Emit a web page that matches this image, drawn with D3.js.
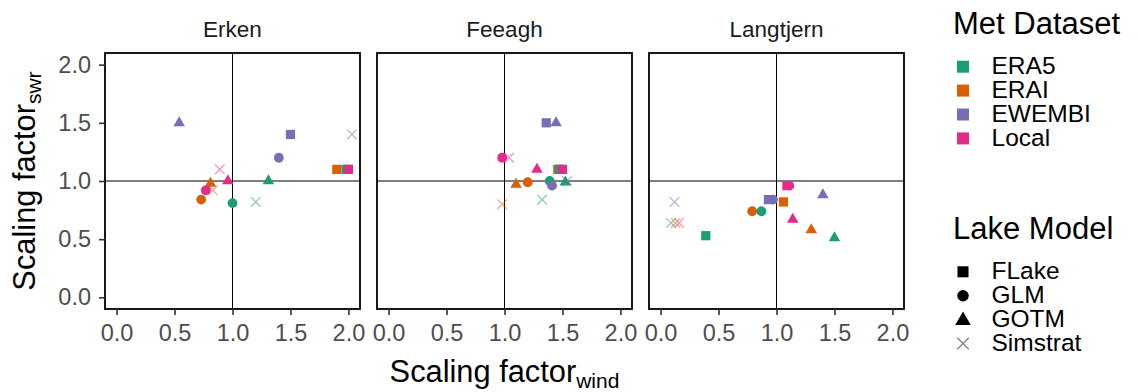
<!DOCTYPE html>
<html>
<head>
<meta charset="utf-8">
<script src="https://cdn.jsdelivr.net/npm/d3@7"></script>
<style>
  html, body { margin: 0; padding: 0; background: #ffffff; }
  svg { display: block; font-family: "Liberation Sans", Arial, Helvetica, sans-serif; }
</style>
</head>
<body>
<svg id="chart" width="1138" height="392"></svg>
<script>
// Facets, colour groups and shape groups
const lakes = ["Erken", "Feeagh", "Langtjern"];
const metDatasets = ["ERA5", "ERAI", "EWEMBI", "Local"];
const lakeModels = ["FLake", "GLM", "GOTM", "Simstrat"];
const datasetColors = ["#1B9E77", "#D95F02", "#7570B3", "#E7298A"];
// order in which the dataset groups are layered on the panels
const drawOrder = ["ERAI", "ERA5", "EWEMBI", "Local"];
const tickValues = [0, 0.5, 1, 1.5, 2];

// Scaling factors; rows follow metDatasets, columns follow lakeModels
const erkenWind = [
  [1.98, 1.00, 1.31, 1.20],
  [1.90, 0.73, 0.81, 0.83],
  [1.50, 1.40, 0.54, 2.03],
  [2.00, 0.77, 0.96, 0.89]
];
const erkenSwr = [
  [1.10, 0.81, 1.00, 0.82],
  [1.10, 0.84, 0.98, 0.92],
  [1.40, 1.20, 1.50, 1.40],
  [1.10, 0.92, 1.00, 1.10]
];
const feeaghWind = [
  [1.475, 1.39, 1.525, 1.325],
  [1.46, 1.20, 1.10, 0.98],
  [1.36, 1.41, 1.445, 1.54],
  [1.50, 0.98, 1.28, 1.04]
];
const feeaghSwr = [
  [1.10, 1.00, 0.99, 0.84],
  [1.10, 0.99, 0.97, 0.80],
  [1.50, 0.96, 1.50, 1.00],
  [1.10, 1.20, 1.10, 1.20]
];
const langtjernWind = [
  [0.39, 0.87, 1.50, 0.09],
  [1.06, 0.79, 1.30, 0.13],
  [0.93, 0.97, 1.40, 0.12],
  [1.09, 1.11, 1.14, 0.16]
];
const langtjernSwr = [
  [0.53, 0.74, 0.51, 0.64],
  [0.82, 0.74, 0.58, 0.64],
  [0.84, 0.84, 0.88, 0.82],
  [0.96, 0.96, 0.67, 0.64]
];

const windByLake = [erkenWind, feeaghWind, langtjernWind];
const swrByLake = [erkenSwr, feeaghSwr, langtjernSwr];

// ---- layout ----
const svg = d3.select("#chart");
const panelW = 255, panelH = 256, panelTop = 53, panelGap = 17, firstLeft = 105;
const tickCol = "#333333", labelCol = "#4D4D4D";

const color = d3.scaleOrdinal().domain(metDatasets).range(datasetColors);
const y = d3.scaleLinear().domain([-0.1, 2.1]).range([panelTop + panelH, panelTop]);

// marker path builders, centred on (0,0)
function shapePath(model, s) {
  if (model === "FLake") {
    const h = s * 0.48;
    return `M${-h},${-h}H${h}V${h}H${-h}Z`;
  }
  if (model === "GLM") {
    const r = s * 0.5;
    return `M${r},0A${r},${r} 0 1,1 ${-r},0A${r},${r} 0 1,1 ${r},0Z`;
  }
  if (model === "GOTM") {
    const half = s * 0.6, r = half * 2 / Math.sqrt(3);
    return `M0,${-r}L${half},${r / 2}L${-half},${r / 2}Z`;
  }
  const c = s * 0.5;
  return `M${-c},${-c}L${c},${c}M${-c},${c}L${c},${-c}`;
}

function drawMarker(g, model, fill, s) {
  const p = g.append("path").attr("d", shapePath(model, s));
  if (model === "Simstrat") {
    p.attr("fill", "none").attr("stroke", fill).attr("stroke-width", 1.3).attr("stroke-opacity", 0.5);
  } else {
    p.attr("fill", fill);
  }
  return p;
}

lakes.forEach((lake, li) => {
  const left = firstLeft + li * (panelW + panelGap);
  const x = d3.scaleLinear().domain([-0.1, 2.1]).range([left, left + panelW]);
  const g = svg.append("g");

  // facet title
  g.append("text")
    .attr("x", left + panelW / 2).attr("y", 36.5)
    .attr("text-anchor", "middle")
    .attr("font-size", 22.5).attr("fill", "#1A1A1A")
    .text(lake);

  // reference lines at a scaling factor of 1
  g.append("line")
    .attr("x1", x(1)).attr("x2", x(1)).attr("y1", panelTop).attr("y2", panelTop + panelH)
    .attr("stroke", "#000").attr("stroke-width", 1);
  g.append("line")
    .attr("x1", left).attr("x2", left + panelW).attr("y1", y(1)).attr("y2", y(1))
    .attr("stroke", "#000").attr("stroke-width", 1);

  // points
  const pts = g.append("g");
  drawOrder.forEach(ds => {
    const di = metDatasets.indexOf(ds);
    lakeModels.forEach((model, mi) => {
      const px = x(windByLake[li][di][mi]);
      const py = y(swrByLake[li][di][mi]);
      const mg = pts.append("g").attr("transform", `translate(${px},${py})`);
      drawMarker(mg, model, color(ds), model === "GLM" ? 9.8 : 9.6);
    });
  });

  // panel border
  g.append("rect")
    .attr("x", left).attr("y", panelTop).attr("width", panelW).attr("height", panelH)
    .attr("fill", "none").attr("stroke", "#000").attr("stroke-width", 1.8);

  // x axis
  const xa = g.append("g")
    .attr("transform", `translate(0,${panelTop + panelH})`)
    .call(d3.axisBottom(x).tickValues(tickValues).tickFormat(d3.format(".1f")).tickSize(6).tickPadding(9));
  xa.select(".domain").remove();
  xa.selectAll(".tick line").attr("stroke", tickCol).attr("stroke-width", 1.6);
  xa.selectAll(".tick text").attr("fill", labelCol).attr("font-size", 23.5)
    .attr("font-family", "Liberation Sans, Arial, sans-serif");

  if (li === 0) {
    const ya = g.append("g")
      .attr("transform", `translate(${left},0)`)
      .call(d3.axisLeft(y).tickValues(tickValues).tickFormat(d3.format(".1f")).tickSize(6).tickPadding(8));
    ya.select(".domain").remove();
    ya.selectAll(".tick line").attr("stroke", tickCol).attr("stroke-width", 1.6);
    ya.selectAll(".tick text").attr("fill", labelCol).attr("font-size", 23.5)
      .attr("font-family", "Liberation Sans, Arial, sans-serif");
  }
});

// axis titles with subscripts
const xTitle = svg.append("text")
  .attr("x", firstLeft + 1.5 * panelW + panelGap).attr("y", 381.5)
  .attr("text-anchor", "middle").attr("font-size", 30.8).attr("fill", "#000");
xTitle.append("tspan").text("Scaling factor");
xTitle.append("tspan").attr("font-size", 21).attr("dy", 6).text("wind");

const yTitle = svg.append("text")
  .attr("transform", `translate(35,${panelTop + panelH / 2}) rotate(-90)`)
  .attr("text-anchor", "middle").attr("font-size", 30.8).attr("fill", "#000");
yTitle.append("tspan").text("Scaling factor");
yTitle.append("tspan").attr("font-size", 21).attr("dy", 6).text("swr");

// legends
const legX = 953, keyX = 963, labX = 991.5, rowStep = 23.9;
const leg1 = svg.append("g");
leg1.append("text").attr("x", legX).attr("y", 33.5).attr("font-size", 31).attr("fill", "#000").text("Met Dataset");
metDatasets.forEach((ds, i) => {
  const cy = 66.7 + i * rowStep;
  leg1.append("rect").attr("x", keyX - 6).attr("y", cy - 6).attr("width", 12).attr("height", 12).attr("fill", color(ds));
  leg1.append("text").attr("x", labX).attr("y", cy + 7.4).attr("font-size", 24.5).attr("fill", "#000").text(ds);
});

const leg2 = svg.append("g");
leg2.append("text").attr("x", legX).attr("y", 238.5).attr("font-size", 31).attr("fill", "#000").text("Lake Model");
lakeModels.forEach((model, i) => {
  const cy = 271.8 + i * rowStep;
  const kg = leg2.append("g").attr("transform", `translate(${keyX},${model === "GOTM" ? cy + 1 : cy})`);
  drawMarker(kg, model, "#000", model === "GOTM" ? 13 : 11.5);
  leg2.append("text").attr("x", labX).attr("y", cy + 7.4).attr("font-size", 24.5).attr("fill", "#000").text(model);
});
</script>
</body>
</html>
